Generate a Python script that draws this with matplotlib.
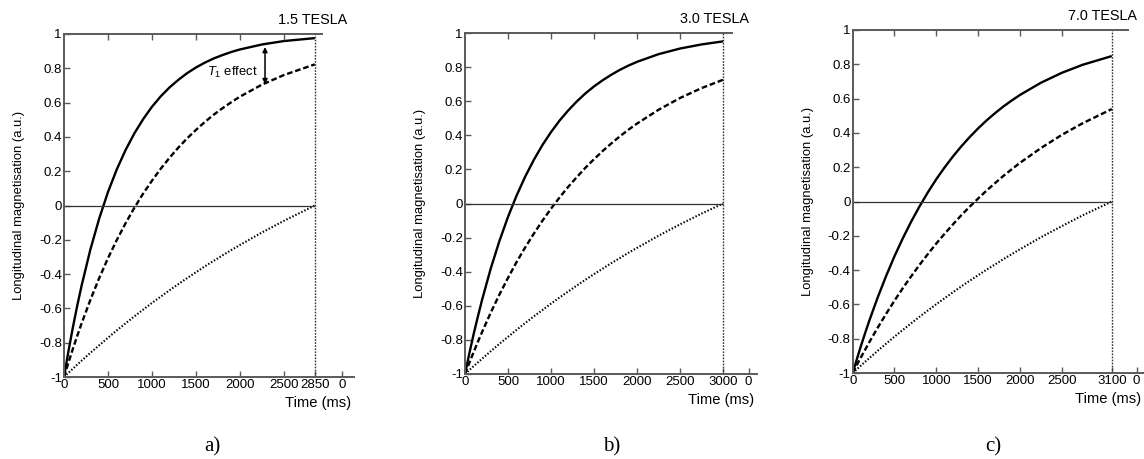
import matplotlib
matplotlib.use("Agg")
import matplotlib.pyplot as plt

plt.rcParams['font.family'] = ['Liberation Sans', 'DejaVu Sans']
plt.rcParams['mathtext.fontset'] = 'custom'
plt.rcParams['mathtext.it'] = 'Liberation Sans:italic'
plt.rcParams['mathtext.rm'] = 'Liberation Sans'

# ---------------- data ----------------
field_titles = ["1.5 TESLA", "3.0 TESLA", "7.0 TESLA"]
captions = ["a)", "b)", "c)"]
tr_values = [2850, 3000, 3100]          # position of the dotted vertical line / last labelled tick

time_a = [0, 50, 100, 150, 200, 300, 400, 500, 600, 700, 800, 900, 1000, 1100, 1200, 1300,
          1400, 1500, 1600, 1700, 1800, 1900, 2000, 2250, 2500, 2850]
solid_a = [-1.0, -0.851, -0.713, -0.585, -0.467, -0.256, -0.076, 0.079, 0.211, 0.324,
           0.421, 0.504, 0.576, 0.637, 0.689, 0.733, 0.772, 0.805, 0.833, 0.857, 0.877,
           0.895, 0.910, 0.939, 0.959, 0.976]
dashed_a = [-1.0, -0.917, -0.837, -0.761, -0.687, -0.550, -0.423, -0.307, -0.201, -0.103,
            -0.013, 0.070, 0.145, 0.215, 0.279, 0.338, 0.392, 0.441, 0.487, 0.529, 0.567,
            0.602, 0.635, 0.705, 0.761, 0.823]
dotted_a = [-1.0, -0.976, -0.952, -0.928, -0.905, -0.859, -0.815, -0.771, -0.728, -0.687,
            -0.646, -0.607, -0.568, -0.531, -0.494, -0.458, -0.423, -0.389, -0.355, -0.323,
            -0.291, -0.260, -0.230, -0.157, -0.089, 0.000]

time_b = [0, 50, 100, 150, 200, 300, 400, 500, 600, 700, 800, 900, 1000, 1100, 1200, 1300,
          1400, 1500, 1600, 1700, 1800, 1900, 2000, 2250, 2500, 2750, 3000]
solid_b = [-1.0, -0.880, -0.767, -0.662, -0.562, -0.380, -0.220, -0.078, 0.047, 0.158,
           0.256, 0.343, 0.419, 0.487, 0.546, 0.599, 0.646, 0.687, 0.723, 0.755, 0.784,
           0.809, 0.831, 0.876, 0.909, 0.933, 0.951]
dashed_b = [-1.0, -0.935, -0.872, -0.811, -0.752, -0.639, -0.534, -0.436, -0.343, -0.257,
            -0.177, -0.101, -0.030, 0.036, 0.098, 0.155, 0.210, 0.260, 0.308, 0.352, 0.394,
            0.433, 0.469, 0.550, 0.619, 0.677, 0.726]
dotted_b = [-1.0, -0.977, -0.954, -0.932, -0.910, -0.866, -0.823, -0.782, -0.741, -0.701,
            -0.662, -0.625, -0.587, -0.551, -0.516, -0.481, -0.447, -0.414, -0.382, -0.350,
            -0.320, -0.289, -0.260, -0.189, -0.122, -0.059, 0.000]

time_c = [0, 50, 100, 150, 200, 300, 400, 500, 600, 700, 800, 900, 1000, 1100, 1200, 1300,
          1400, 1500, 1600, 1700, 1800, 1900, 2000, 2250, 2500, 2750, 3100]
solid_c = [-1.0, -0.919, -0.840, -0.765, -0.693, -0.558, -0.434, -0.319, -0.214, -0.117,
           -0.028, 0.054, 0.130, 0.199, 0.263, 0.322, 0.376, 0.426, 0.472, 0.514, 0.553,
           0.588, 0.621, 0.692, 0.750, 0.797, 0.848]
dashed_c = [-1.0, -0.953, -0.907, -0.863, -0.819, -0.735, -0.655, -0.578, -0.505, -0.436,
            -0.369, -0.306, -0.245, -0.188, -0.133, -0.080, -0.030, 0.017, 0.063, 0.106,
            0.148, 0.187, 0.225, 0.311, 0.388, 0.456, 0.539]
dotted_c = [-1.0, -0.978, -0.956, -0.934, -0.913, -0.870, -0.829, -0.788, -0.749, -0.710,
            -0.672, -0.635, -0.599, -0.564, -0.529, -0.495, -0.462, -0.430, -0.398, -0.368,
            -0.337, -0.308, -0.279, -0.209, -0.144, -0.081, 0.000]

common_ticks = [0, 500, 1000, 1500, 2000, 2500]
extra_zero_tick = [3160, 3295, 3397]      # where the stray "0" label sits
x_max = [3295, 3390, 3485]
top_spine_end = [2932, 3098, 3293]

y_ticks = [-1, -0.8, -0.6, -0.4, -0.2, 0, 0.2, 0.4, 0.6, 0.8, 1]
y_ticklabels = ["-1", "-0.8", "-0.6", "-0.4", "-0.2", "0", "0.2", "0.4", "0.6", "0.8", "1"]

# T1 effect annotation (panel a)
t1_arrow_x = 2284
t1_arrow_y = (0.924, 0.708)
t1_text_pos = (2205, 0.778)

# ---------------- layout (pixels) ----------------
W, H = 1144, 459
boxes = [(64, 34, 354, 377), (465, 33, 756.7, 374), (852.7, 30, 1144, 373)]
caption_x = [212, 612, 993]
caption_y = 447

fig = plt.figure(figsize=(W / 100, H / 100), dpi=100)

panels = [
    (time_a, solid_a, dashed_a, dotted_a),
    (time_b, solid_b, dashed_b, dotted_b),
    (time_c, solid_c, dashed_c, dotted_c),
]

spine_col = '#5a5a5a'
tick_fs = 9.5

for i, (t, s, d, o) in enumerate(panels):
    l, tp, r, b = boxes[i]
    ax = fig.add_axes([l / W, 1 - b / H, (r - l) / W, (b - tp) / H])
    tr = tr_values[i]
    ax.set_xlim(0, x_max[i])
    ax.set_ylim(-1, 1)

    ax.plot(t, s, color='black', lw=1.7, solid_capstyle='butt', solid_joinstyle='round')
    ax.plot(t, d, color='black', lw=1.7, dashes=(2.4, 1.2))
    ax.plot(t, o, color='black', lw=1.5, dashes=(0.7, 0.9))

    ax.hlines(0, 0, tr, color='#333333', lw=0.9)
    ax.vlines(tr, -1, 1, color='#333333', lw=1.0, linestyles=(0, (1.2, 1.0)))

    for sp in ['left', 'bottom', 'top']:
        ax.spines[sp].set_color(spine_col)
        ax.spines[sp].set_linewidth(1.4)
    ax.spines['right'].set_visible(False)
    ax.spines['top'].set_bounds(0, top_spine_end[i])

    xt = common_ticks + [tr, extra_zero_tick[i]]
    xl = [str(v) for v in common_ticks] + [str(tr), "0"]
    ax.set_xticks(xt)
    ax.set_xticklabels(xl, fontsize=tick_fs)
    ax.set_yticks(y_ticks)
    ax.set_yticklabels(y_ticklabels, fontsize=tick_fs)
    ax.tick_params(direction='in', length=4, width=1.0, color=spine_col, pad=1.5,
                   top=False, right=False)

    ax2 = ax.twiny()
    ax2.set_xlim(ax.get_xlim())
    ax2.set_xticks(common_ticks[1:])
    ax2.set_xticklabels([])
    ax2.tick_params(direction='in', length=4, width=1.0, color=spine_col)
    for sp in ax2.spines.values():
        sp.set_visible(False)

    ax.set_ylabel("Longitudinal magnetisation (a.u.)", fontsize=9.4)
    ax.yaxis.set_label_coords(-0.133, 0.5)
    ax.set_xlabel("Time (ms)", fontsize=10.6, ha='right', va='center')
    ax.xaxis.set_label_coords(0.99, -0.077)

    ax.text(0.975, 1.04, field_titles[i], transform=ax.transAxes, ha='right',
            va='center', fontsize=10.4)

    if i == 0:
        ax.annotate('', xy=(t1_arrow_x, t1_arrow_y[1]), xytext=(t1_arrow_x, t1_arrow_y[0]),
                    arrowprops=dict(arrowstyle='<|-|>', lw=1.1, color='black',
                                    mutation_scale=7, shrinkA=0, shrinkB=0))
        ax.text(t1_text_pos[0], t1_text_pos[1], r'$T_{1}$ effect', ha='right',
                va='center', fontsize=9.4)

    fig.text(caption_x[i] / W, 1 - caption_y / H, captions[i], ha='center', va='center',
             fontsize=15, family=['Liberation Serif', 'DejaVu Serif'])

fig.savefig("out.png", dpi=100)
